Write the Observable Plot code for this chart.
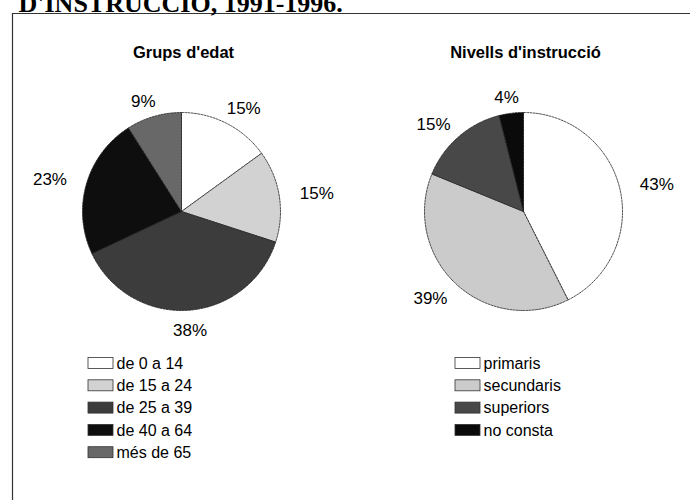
<!DOCTYPE html>
<html>
<head>
<meta charset="utf-8">
<script src="https://cdn.jsdelivr.net/npm/d3@7"></script>
<script src="https://cdn.jsdelivr.net/npm/@observablehq/plot@0.6"></script>
<style>
  html, body { margin: 0; padding: 0; background: #fff; }
  #chart svg { display: block; overflow: hidden; }
</style>
</head>
<body>
<div id="chart"></div>
<script>
// ---- data ----
const titleText = "D'INSTRUCCIÓ, 1991-1996.";
const pieTitles = ["Grups d'edat", "Nivells d'instrucció"];
const ageGroups = ["de 0 a 14", "de 15 a 24", "de 25 a 39", "de 40 a 64", "més de 65"];
const agePct = [15, 15, 38, 23, 9];
const eduLevels = ["primaris", "secundaris", "superiors", "no consta"];
const eduPct = [43, 39, 15, 4];

// ---- styles ----
const ageColors = ["#ffffff", "#d2d2d2", "#3c3c3c", "#0e0e0e", "#686868"];
const eduColors = ["#ffffff", "#cbcbcb", "#484848", "#0a0a0a"];

// ---- layout ----
const W = 690, H = 500;
const pies = [
  {cx: 181, cy: 211, r: 99, cats: ageGroups, vals: agePct, title: pieTitles[0], legX: 88},
  {cx: 523, cy: 211, r: 99, cats: eduLevels, vals: eduPct, title: pieTitles[1], legX: 455}
];
const legY0 = 363, legStep = 22.3, swW = 25, swH = 11;

const slicePts = [], labels = [], titles = [], legRects = [], legTexts = [];
pies.forEach((p, pi) => {
  const arcs = d3.pie().sort(null).value(d => d)(p.vals);
  arcs.forEach((a, i) => {
    const cat = p.cats[i];
    slicePts.push({x: p.cx, y: p.cy, cat});
    const n = Math.max(2, Math.ceil((a.endAngle - a.startAngle) / 0.02));
    for (let k = 0; k <= n; k++) {
      const t = a.startAngle + (a.endAngle - a.startAngle) * k / n;
      slicePts.push({x: p.cx + p.r * Math.sin(t), y: p.cy - p.r * Math.cos(t), cat});
    }
    slicePts.push({x: p.cx, y: p.cy, cat});
    const m = (a.startAngle + a.endAngle) / 2;
    const ry = Math.cos(m) < 0 ? p.r + 20 : p.r + 16;
    labels.push({x: p.cx + (p.r + 38) * Math.sin(m), y: p.cy - ry * Math.cos(m), text: p.vals[i] + "%"});
    legRects.push({x1: p.legX, x2: p.legX + swW, y1: legY0 + i * legStep - swH / 2, y2: legY0 + i * legStep + swH / 2, cat});
    legTexts.push({x: p.legX + swW + 3, y: legY0 + i * legStep, text: cat});
  });
  titles.push({x: p.cx + 2, y: 52, text: p.title});
});

const chart = Plot.plot({
  width: W, height: H, margin: 0,
  x: {domain: [0, W], range: [0, W], axis: null},
  y: {domain: [0, H], range: [0, H], axis: null},
  color: {domain: ageGroups.concat(eduLevels), range: ageColors.concat(eduColors)},
  style: {fontFamily: "'Liberation Sans', Arial, sans-serif", background: "#fff", color: "#000"},
  marks: [
    // frame lines (top and left only)
    Plot.ruleY([13], {x1: 12, x2: W, stroke: "#333", strokeWidth: 1.2}),
    Plot.ruleX([12], {y1: 13, y2: H, stroke: "#333", strokeWidth: 1.2}),
    // heading, clipped at the top as in the scan
    Plot.text([titleText], {x: 18, y: 11, text: d => d, textAnchor: "start", lineAnchor: "bottom",
      fontFamily: "'Liberation Serif', 'Times New Roman', serif", fontWeight: "bold", fontSize: 26, fill: "#000"}),
    // pies
    Plot.line(slicePts, {x: "x", y: "y", z: "cat", fill: "cat", stroke: "#222", strokeWidth: 0.8, strokeDasharray: "2,1.2", curve: "linear"}),
    // pie titles
    Plot.text(titles, {x: "x", y: "y", text: "text", fontWeight: "bold", fontSize: 16.5, fill: "#000"}),
    // percentage labels
    Plot.text(labels, {x: "x", y: "y", text: "text", fontSize: 17, fill: "#000"}),
    // legends
    Plot.rect(legRects, {x1: "x1", x2: "x2", y1: "y1", y2: "y2", fill: "cat", stroke: "#333", strokeWidth: 0.8}),
    Plot.text(legTexts, {x: "x", y: "y", text: "text", textAnchor: "start", fontSize: 16, fill: "#000"})
  ]
});
document.getElementById("chart").appendChild(chart);
</script>
</body>
</html>
